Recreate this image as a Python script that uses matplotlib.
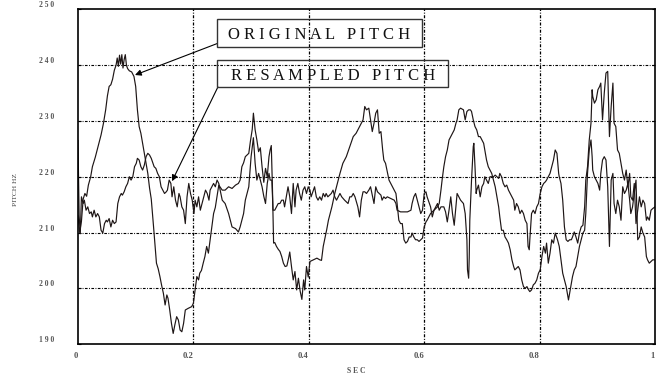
import matplotlib
matplotlib.use("Agg")
import matplotlib.pyplot as plt
from matplotlib.patches import Rectangle

plt.rcParams['font.family'] = ['Liberation Serif', 'DejaVu Serif']

# -------------------------------------------------
# pitch tracks (time in sec, pitch in Hz)
# -------------------------------------------------
orig_t = [
    0.000, 0.003, 0.006, 0.009, 0.012, 0.015, 0.018, 0.022, 0.025, 0.030,
    0.035, 0.040, 0.044, 0.048, 0.051, 0.054, 0.057, 0.060, 0.063, 0.066,
    0.068, 0.070, 0.072, 0.074, 0.076, 0.078, 0.080, 0.082, 0.084, 0.086,
    0.089, 0.093, 0.097, 0.100, 0.103, 0.106, 0.109, 0.112, 0.115, 0.118,
    0.121, 0.124, 0.127, 0.131, 0.134, 0.136, 0.139, 0.142, 0.145, 0.148,
    0.151, 0.154, 0.156, 0.159, 0.162, 0.165, 0.168, 0.171, 0.174, 0.177,
    0.180, 0.183, 0.186, 0.191, 0.197, 0.200, 0.203, 0.206, 0.209, 0.211,
    0.214, 0.217, 0.220, 0.223, 0.226, 0.229, 0.232, 0.235, 0.238, 0.241,
    0.244, 0.250, 0.255, 0.261, 0.267, 0.273, 0.278, 0.281, 0.284, 0.287,
    0.290, 0.296, 0.299, 0.302, 0.304, 0.307, 0.310, 0.313, 0.316, 0.319,
    0.322, 0.325, 0.328, 0.331, 0.333, 0.335, 0.337, 0.339, 0.341, 0.344,
    0.347, 0.350, 0.353, 0.356, 0.359, 0.362, 0.365, 0.367, 0.370, 0.373,
    0.376, 0.379, 0.382, 0.385, 0.388, 0.391, 0.393, 0.396, 0.399, 0.402,
    0.408, 0.414, 0.419, 0.422, 0.425, 0.431, 0.434, 0.440, 0.445, 0.451,
    0.454, 0.459, 0.465, 0.471, 0.477, 0.482, 0.488, 0.494, 0.497, 0.500,
    0.504, 0.507, 0.510, 0.513, 0.516, 0.519, 0.522, 0.525, 0.528, 0.530,
    0.533, 0.536, 0.539, 0.542, 0.545, 0.548, 0.551, 0.553, 0.556, 0.559,
    0.562, 0.565, 0.568, 0.571, 0.574, 0.577, 0.579, 0.582, 0.585, 0.588,
    0.591, 0.594, 0.597, 0.600, 0.603, 0.605, 0.611, 0.617, 0.623, 0.626,
    0.629, 0.631, 0.634, 0.637, 0.640, 0.643, 0.646, 0.649, 0.652, 0.655,
    0.657, 0.660, 0.663, 0.668, 0.671, 0.674, 0.677, 0.680, 0.682, 0.685,
    0.688, 0.691, 0.694, 0.697, 0.700, 0.703, 0.705, 0.708, 0.711, 0.714,
    0.717, 0.720, 0.723, 0.726, 0.729, 0.731, 0.734, 0.737, 0.740, 0.743,
    0.746, 0.749, 0.752, 0.755, 0.757, 0.760, 0.763, 0.766, 0.769, 0.772,
    0.775, 0.778, 0.781, 0.783, 0.786, 0.789, 0.792, 0.795, 0.798, 0.801,
    0.804, 0.807, 0.810, 0.812, 0.815, 0.818, 0.821, 0.824, 0.827, 0.831,
    0.834, 0.837, 0.840, 0.843, 0.846, 0.848, 0.850, 0.852, 0.854, 0.857,
    0.860, 0.863, 0.866, 0.869, 0.872, 0.875, 0.878, 0.880, 0.883, 0.886,
    0.889, 0.891, 0.892, 0.895, 0.898, 0.901, 0.904, 0.906, 0.909, 0.912,
    0.915, 0.918, 0.921, 0.924, 0.927, 0.929, 0.932, 0.935, 0.938, 0.941,
    0.944, 0.947, 0.950, 0.953, 0.956, 0.958, 0.961, 0.967, 0.970, 0.973,
    0.976, 0.979, 0.982, 0.985, 0.987, 0.990, 0.996, 1.000,
]
orig_hz = [
    213.0, 210.0, 212.0, 216.0, 217.0, 216.5, 218.5, 220.0, 221.8, 223.5,
    225.5, 227.5, 229.5, 232.0, 234.5, 236.2, 236.5, 237.5, 239.1, 240.0,
    241.3, 239.8, 241.8, 240.2, 241.9, 239.5, 241.0, 241.9, 240.0, 239.4,
    239.0, 238.8, 238.0, 236.2, 232.0, 229.0, 227.8, 226.0, 224.2, 222.5,
    220.6, 218.0, 216.0, 211.0, 207.0, 204.5, 203.5, 202.1, 200.5, 199.1,
    197.0, 198.8, 198.2, 196.1, 193.7, 191.9, 193.5, 194.9, 194.3, 192.5,
    192.2, 193.7, 196.1, 196.4, 196.7, 197.3, 199.7, 202.1, 201.5, 202.7,
    203.2, 204.5, 205.7, 207.5, 206.3, 208.7, 211.0, 213.4, 214.5, 216.5,
    218.5, 217.6, 217.6, 218.2, 217.9, 218.5, 218.8, 219.4, 221.8, 222.5,
    223.6, 224.2, 226.5, 228.5, 231.4, 228.4, 226.6, 224.5, 225.2, 221.8,
    219.0, 221.5, 220.0, 223.6, 224.8, 225.6, 218.0, 208.1, 208.2, 207.5,
    207.0, 206.6, 205.7, 204.5, 203.9, 204.0, 205.4, 206.5, 203.9, 201.5,
    203.0, 199.7, 201.8, 199.5, 198.0, 201.5, 199.7, 203.9, 202.0, 204.8,
    205.1, 205.4, 205.1, 205.0, 207.5, 210.5, 212.2, 214.6, 217.0, 219.4,
    220.6, 222.4, 223.6, 225.4, 227.2, 227.8, 229.0, 230.2, 232.6, 232.0,
    232.3, 230.2, 228.1, 229.6, 231.4, 232.0, 227.8, 228.1, 224.8, 223.0,
    222.4, 220.9, 219.4, 218.8, 218.2, 217.6, 217.0, 215.2, 212.2, 211.6,
    211.6, 208.7, 208.1, 208.4, 209.2, 209.2, 209.9, 209.2, 208.7, 208.7,
    208.4, 208.7, 209.0, 211.0, 211.9, 212.2, 213.4, 214.0, 214.6, 215.2,
    217.6, 219.4, 221.8, 223.6, 224.8, 226.6, 227.2, 227.8, 228.4, 229.6,
    230.2, 232.0, 232.3, 232.0, 230.2, 231.7, 232.0, 232.0, 231.7, 230.2,
    229.0, 228.4, 227.2, 227.2, 226.6, 226.0, 224.8, 223.0, 221.8, 221.2,
    220.6, 219.4, 218.2, 216.4, 214.6, 212.8, 210.4, 210.4, 209.2, 208.7,
    208.1, 206.9, 205.1, 203.9, 203.3, 203.6, 203.9, 203.3, 201.5, 200.3,
    200.0, 200.3, 199.7, 199.4, 199.7, 200.6, 200.9, 201.5, 202.7, 203.3,
    205.7, 207.5, 206.3, 208.1, 204.5, 206.3, 208.7, 208.1, 209.9, 208.7,
    207.5, 205.1, 202.7, 201.5, 200.3, 199.1, 197.9, 199.1, 200.3, 202.1,
    203.3, 203.9, 205.7, 207.5, 208.7, 209.9, 210.4, 213.4, 220.6, 224.8,
    226.6, 223.6, 221.2, 220.0, 219.4, 218.8, 217.6, 220.6, 223.0, 223.6,
    223.0, 218.2, 207.5, 219.4, 220.6, 215.2, 213.4, 215.8, 214.6, 212.2,
    218.2, 217.0, 217.6, 218.8, 215.8, 213.4, 214.6, 219.4, 208.7, 209.2,
    211.0, 209.9, 209.2, 205.7, 205.1, 204.5, 205.1, 205.1,
]

res_t = [
    0.000, 0.002, 0.004, 0.006, 0.009, 0.011, 0.014, 0.017, 0.020, 0.023,
    0.025, 0.028, 0.031, 0.034, 0.037, 0.040, 0.043, 0.046, 0.049, 0.051,
    0.054, 0.057, 0.060, 0.063, 0.066, 0.069, 0.072, 0.075, 0.077, 0.080,
    0.083, 0.086, 0.089, 0.092, 0.095, 0.098, 0.101, 0.103, 0.106, 0.109,
    0.112, 0.115, 0.118, 0.121, 0.124, 0.127, 0.130, 0.132, 0.135, 0.138,
    0.141, 0.144, 0.147, 0.150, 0.153, 0.155, 0.158, 0.161, 0.163, 0.166,
    0.169, 0.172, 0.175, 0.177, 0.180, 0.183, 0.186, 0.189, 0.192, 0.195,
    0.198, 0.201, 0.203, 0.206, 0.209, 0.212, 0.215, 0.218, 0.221, 0.224,
    0.227, 0.229, 0.232, 0.235, 0.238, 0.241, 0.244, 0.250, 0.255, 0.261,
    0.267, 0.273, 0.278, 0.281, 0.284, 0.287, 0.290, 0.296, 0.300, 0.304,
    0.307, 0.310, 0.313, 0.316, 0.319, 0.322, 0.325, 0.328, 0.331, 0.333,
    0.336, 0.338, 0.341, 0.344, 0.347, 0.350, 0.353, 0.356, 0.358, 0.361,
    0.364, 0.367, 0.370, 0.373, 0.376, 0.378, 0.381, 0.384, 0.387, 0.390,
    0.393, 0.396, 0.399, 0.402, 0.404, 0.410, 0.413, 0.416, 0.419, 0.422,
    0.425, 0.428, 0.430, 0.433, 0.439, 0.442, 0.445, 0.448, 0.451, 0.454,
    0.457, 0.462, 0.468, 0.471, 0.474, 0.477, 0.480, 0.485, 0.488, 0.491,
    0.494, 0.497, 0.500, 0.504, 0.507, 0.510, 0.513, 0.516, 0.519, 0.525,
    0.527, 0.530, 0.533, 0.536, 0.542, 0.548, 0.551, 0.553, 0.559, 0.565,
    0.571, 0.577, 0.579, 0.582, 0.585, 0.588, 0.591, 0.594, 0.597, 0.600,
    0.603, 0.605, 0.611, 0.614, 0.617, 0.620, 0.623, 0.626, 0.629, 0.634,
    0.637, 0.640, 0.643, 0.646, 0.649, 0.652, 0.655, 0.657, 0.660, 0.663,
    0.668, 0.671, 0.674, 0.675, 0.677, 0.678, 0.679, 0.682, 0.685, 0.686,
    0.688, 0.690, 0.691, 0.694, 0.697, 0.700, 0.703, 0.705, 0.708, 0.711,
    0.714, 0.717, 0.720, 0.723, 0.726, 0.729, 0.731, 0.734, 0.737, 0.740,
    0.743, 0.746, 0.749, 0.752, 0.755, 0.757, 0.760, 0.763, 0.766, 0.769,
    0.772, 0.775, 0.778, 0.780, 0.782, 0.783, 0.786, 0.789, 0.792, 0.795,
    0.798, 0.801, 0.804, 0.807, 0.810, 0.812, 0.815, 0.818, 0.821, 0.824,
    0.827, 0.830, 0.831, 0.833, 0.834, 0.837, 0.840, 0.843, 0.846, 0.849,
    0.852, 0.855, 0.857, 0.860, 0.863, 0.866, 0.869, 0.872, 0.875, 0.878,
    0.880, 0.883, 0.886, 0.889, 0.891, 0.892, 0.895, 0.898, 0.901, 0.904,
    0.906, 0.909, 0.912, 0.915, 0.918, 0.921, 0.924, 0.927, 0.929, 0.932,
    0.935, 0.938, 0.941, 0.944, 0.947, 0.950, 0.953, 0.956, 0.958, 0.961,
    0.964, 0.967, 0.970, 0.973, 0.976, 0.979, 0.982, 0.985, 0.987, 0.990,
    0.993, 0.996, 1.000,
]
res_hz = [
    226.5, 213.0, 209.8, 216.4, 215.2, 215.8, 214.0, 214.6, 213.4, 213.7,
    212.8, 214.0, 212.8, 213.4, 212.8, 210.4, 209.9, 211.6, 212.2, 211.9,
    212.5, 211.0, 212.2, 211.6, 211.9, 215.2, 216.4, 217.0, 216.7, 217.3,
    218.2, 218.8, 220.0, 219.4, 220.0, 221.8, 222.4, 223.3, 223.0, 221.8,
    221.2, 222.1, 223.6, 224.2, 223.9, 223.3, 222.4, 221.8, 221.5, 220.6,
    220.0, 218.2, 217.6, 217.0, 217.3, 217.6, 219.4, 218.8, 216.4, 218.2,
    215.8, 214.6, 217.0, 216.4, 214.6, 214.0, 211.6, 216.4, 218.8, 217.0,
    215.8, 213.4, 215.8, 214.6, 216.4, 214.0, 215.2, 216.4, 217.6, 217.0,
    215.8, 217.6, 218.2, 218.8, 218.2, 219.4, 218.8, 215.8, 215.2, 213.4,
    211.0, 210.7, 210.1, 211.0, 212.2, 213.4, 215.8, 218.2, 223.6, 227.0,
    222.4, 219.4, 220.6, 219.4, 218.2, 216.5, 215.2, 218.8, 220.6, 219.4,
    219.4, 214.0, 214.0, 214.6, 215.2, 215.2, 215.8, 215.8, 214.6, 216.4,
    218.2, 216.4, 213.4, 218.8, 214.6, 217.6, 218.8, 217.0, 215.8, 217.6,
    218.2, 217.0, 218.2, 217.6, 216.4, 218.2, 216.4, 215.8, 216.4, 215.8,
    217.0, 216.4, 217.0, 216.4, 217.0, 217.6, 216.4, 215.8, 216.4, 217.0,
    216.4, 215.8, 215.2, 216.4, 216.4, 217.0, 216.4, 214.6, 212.8, 215.8,
    217.3, 217.3, 217.0, 217.6, 218.2, 216.7, 215.2, 218.2, 217.3, 216.7,
    215.8, 216.4, 216.1, 216.4, 216.1, 215.8, 215.2, 214.0, 213.7, 213.7,
    213.7, 214.0, 215.2, 216.4, 217.0, 215.8, 214.6, 213.4, 214.0, 217.0,
    217.3, 216.4, 214.6, 212.8, 214.0, 214.6, 215.2, 214.0, 214.6, 214.6,
    213.7, 211.9, 214.0, 216.4, 213.4, 211.3, 214.6, 217.0, 216.4, 215.8,
    215.2, 213.4, 208.7, 203.3, 201.8, 205.5, 212.2, 219.4, 225.4, 226.0,
    221.8, 217.0, 217.6, 218.5, 216.4, 218.2, 218.8, 220.0, 219.4, 218.8,
    220.0, 220.0, 220.0, 220.3, 220.0, 219.7, 220.6, 220.0, 218.8, 218.2,
    218.5, 217.6, 217.0, 216.4, 215.8, 214.0, 215.2, 214.6, 213.4, 214.0,
    213.4, 212.2, 211.6, 207.5, 206.9, 208.7, 213.4, 214.0, 213.4, 214.6,
    215.2, 217.0, 218.2, 218.8, 219.1, 219.4, 220.0, 220.6, 221.8, 223.0,
    224.8, 224.2, 223.0, 220.6, 220.0, 218.8, 215.8, 211.0, 208.7, 208.4,
    208.7, 208.7, 209.2, 210.1, 209.2, 208.1, 209.9, 211.0, 211.3, 214.6,
    219.4, 221.8, 226.6, 229.6, 235.6, 234.4, 233.2, 233.8, 235.6, 236.2,
    236.8, 230.2, 235.0, 238.6, 238.9, 227.2, 232.6, 236.8, 229.6, 229.0,
    224.8, 224.2, 222.4, 220.6, 219.4, 221.2, 218.2, 220.6, 216.4, 215.8,
    218.8, 211.6, 214.0, 216.4, 214.6, 215.8, 215.2, 212.2, 212.8, 212.2,
    214.0, 214.3, 214.6,
]

x_ticks = [0, 0.2, 0.4, 0.6, 0.8, 1.0]
x_tick_labels = ['0', '0.2', '0.4', '0.6', '0.8', '1']
y_ticks = [190, 200, 210, 220, 230, 240, 250]
y_tick_labels = ['1 9 0', '2 0 0', '2 1 0', '2 2 0', '2 3 0', '2 4 0', '2 5 0']

line_col = '#1e1616'
grid_style = (0, (2.4, 1.3, 0.8, 1.3))

fig = plt.figure(figsize=(6.58, 3.79), dpi=100)
ax = fig.add_axes([0.1185, 0.0923, 0.877, 0.8827])

ax.plot(orig_t, orig_hz, color=line_col, lw=0.85)
ax.plot(res_t, res_hz, color=line_col, lw=0.85)

ax.set_xlim(0, 1)
ax.set_ylim(190, 250)

# dash-dot grid
for gx in x_ticks[1:-1]:
    ax.axvline(gx, color='black', lw=0.9, ls=grid_style, zorder=0)
for gy in y_ticks[1:-1]:
    ax.axhline(gy, color='black', lw=0.8, ls=grid_style, zorder=0)

for side in ['left', 'bottom', 'top', 'right']:
    ax.spines[side].set_color('black')
    ax.spines[side].set_linewidth(1.2)

ax.set_xticks(x_ticks)
ax.set_xticklabels(x_tick_labels, fontsize=6.2, fontweight='bold', color='#555555')
ax.set_yticks(y_ticks)
ax.set_yticklabels(y_tick_labels, fontsize=5.5, fontweight='bold', color='#555555')
ax.tick_params(axis='x', length=0, pad=6)
ax.tick_params(axis='y', direction='in', length=2.5, width=0.8,
               right=True, pad=17)
for lbl in ax.get_xticklabels():
    lbl.set_ha('right')
for lbl in ax.get_yticklabels():
    lbl.set_va('bottom')

fig.text(356 / 658, 1 - 371 / 379, 'S E C', fontsize=5.5, fontweight='bold',
         color='#555555', ha='center', va='center')
fig.text(15.5 / 658, 1 - 190 / 379, 'PITCH HZ', fontsize=5.3, color='#444444',
         rotation=90, ha='center', va='center')

# labelled boxes with arrows
ax.add_patch(Rectangle((0.2404, 243.2), 0.3551, 5.04, fill=False,
                       edgecolor='#333333', lw=1.0, zorder=5))
ax.text(0.4175, 245.75, 'O R I G I N A L   P I T C H', fontsize=12,
        ha='center', va='center_baseline', color='#111111', zorder=6)
ax.add_patch(Rectangle((0.2404, 236.04), 0.4014, 4.9, fill=False,
                       edgecolor='#333333', lw=1.0, zorder=5))
ax.text(0.4415, 238.5, 'R E S A M P L E D   P I T C H', fontsize=12,
        ha='center', va='center_baseline', color='#111111', zorder=6)

arrow_kw = dict(arrowstyle='-|>', color='black', lw=0.8, mutation_scale=9,
                shrinkA=0, shrinkB=0)
ax.annotate('', xy=(0.0988, 238.25), xytext=(0.2415, 243.9), arrowprops=arrow_kw)
ax.annotate('', xy=(0.163, 219.2), xytext=(0.2425, 236.1), arrowprops=arrow_kw)

plt.savefig('out.png', dpi=100)
plt.close()
